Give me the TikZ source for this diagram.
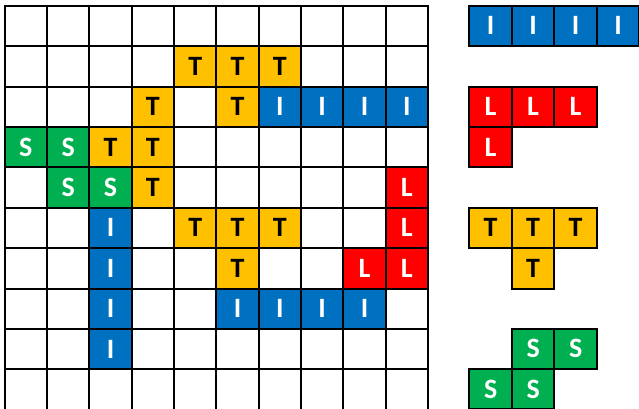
\documentclass[tikz,border=0pt]{standalone}
\usepackage{fontspec}
\setmainfont{Carlito}
\usetikzlibrary{positioning}
\definecolor{tetblue}{HTML}{0070C0}
\definecolor{tetred}{HTML}{FF0000}
\definecolor{tetgold}{HTML}{FFC000}
\definecolor{tetgreen}{HTML}{00B050}

\begin{document}
\begin{tikzpicture}[x=1pt,y=-1pt,node distance=0pt]
    \tikzstyle{piece}=[minimum width=42.5pt,minimum height=40.4pt,inner sep=0pt,outer sep=0pt,font=\bfseries\fontsize{28}{28}\selectfont]
    \tikzstyle{icell}=[piece,fill=tetblue,text=white]
    \tikzstyle{lcell}=[piece,fill=tetred,text=white]
    \tikzstyle{tcell}=[piece,fill=tetgold,text=black]
    \tikzstyle{scell}=[piece,fill=tetgreen,text=white]
    \tikzstyle{framed}=[draw=black,line width=2pt]
    \tikzstyle{gridline}=[black,line width=2pt,line cap=rect]
    \useasboundingbox (0,0) rectangle (639,408);
    \clip (0,0) rectangle (639,408);

    % board
    \begin{scope}[shift={(4.7pt,-5.7pt)},x=42.33pt,y=-40.4pt]
        \foreach \c/\r in {4/1,5/1,6/1,5/2,3/2,2/3,3/3,3/4,4/5,5/5,6/5,5/6}
            \node[tcell] (b-\c-\r) at (\c+0.5,\r+0.5) {T};
        \foreach \c/\r in {6/2,7/2,8/2,9/2,2/5,2/6,2/7,2/8,5/7,6/7,7/7,8/7}
            \node[icell] (b-\c-\r) at (\c+0.5,\r+0.5) {I};
        \foreach \c/\r in {0/3,1/3,1/4,2/4}
            \node[scell] (b-\c-\r) at (\c+0.5,\r+0.5) {S};
        \foreach \c/\r in {9/4,9/5,9/6,8/6}
            \node[lcell] (b-\c-\r) at (\c+0.5,\r+0.5) {L};
        \foreach \i in {0,...,10} {
            \draw[gridline] (\i,0) -- (\i,10);
            \draw[gridline] (0,\i) -- (10,\i);
        }
    \end{scope}

    % pieces
    \node[icell,framed] (i1) at (490.65,25.9) {I};
    \node[icell,framed,right=of i1] (i2) {I};
    \node[icell,framed,right=of i2] (i3) {I};
    \node[icell,framed,right=of i3] (i4) {I};

    \node[lcell,framed] (l1) at (490.65,106.7) {L};
    \node[lcell,framed,right=of l1] (l2) {L};
    \node[lcell,framed,right=of l2] (l3) {L};
    \node[lcell,framed,below=of l1] (l4) {L};

    \node[tcell,framed] (t1) at (490.65,227.9) {T};
    \node[tcell,framed,right=of t1] (t2) {T};
    \node[tcell,framed,right=of t2] (t3) {T};
    \node[tcell,framed,below=of t2] (t4) {T};

    \node[scell,framed] (s1) at (533.15,348.7) {S};
    \node[scell,framed,right=of s1] (s2) {S};
    \node[scell,framed,below=of s1] (s3) {S};
    \node[scell,framed,left=of s3] (s4) {S};
\end{tikzpicture}
\end{document}
